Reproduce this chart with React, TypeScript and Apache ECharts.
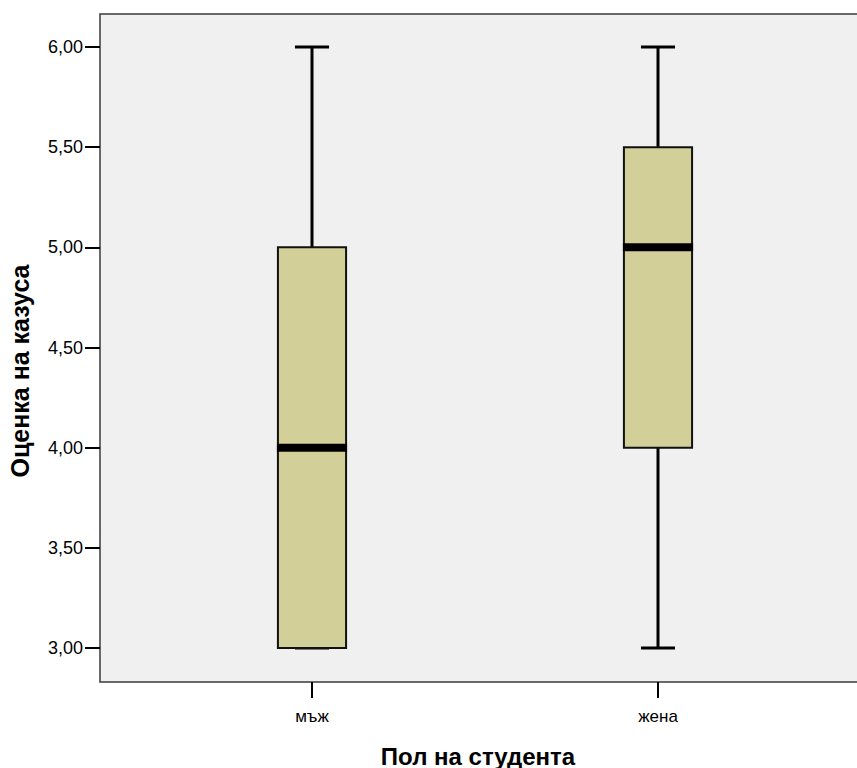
import React, { useEffect, useRef } from "react";
import * as echarts from "echarts";

const categories = ["мъж", "жена"];
// [min, Q1, median, Q3, max]
const boxValues = [
  [3.0, 3.0, 4.0, 5.0, 6.0],
  [3.0, 4.0, 5.0, 5.5, 6.0],
];
const yTicks = { min: 3, max: 6, interval: 0.5 };
const xTitle = "Пол на студента";
const yTitle = "Оценка на казуса";

export default function App() {
  const ref = useRef<HTMLDivElement>(null);
  useEffect(() => {
    if (!ref.current) return;
    const chart = echarts.init(ref.current, undefined, { renderer: "svg" });
    const font = "'Liberation Sans', Arial, sans-serif";
    const option: any = {
      animation: false,
      backgroundColor: "#ffffff",
      grid: [
        {
          left: 100,
          top: 14,
          width: 760,
          height: 668,
          show: true,
          outerBoundsMode: "none",
          containLabel: false,
          backgroundColor: "#f0f0f0",
          borderColor: "#3a3a3a",
          borderWidth: 1.5,
        },
        { left: 139, top: 47, width: 692, height: 601, outerBoundsMode: "none", containLabel: false },
      ],
      xAxis: [
        { type: "value", gridIndex: 0, show: false, min: 0, max: 1 },
        {
          type: "category",
          gridIndex: 1,
          data: categories,
          offset: 34,
          axisLine: { show: false },
          axisTick: {
            show: true,
            alignWithLabel: true,
            length: 16,
            lineStyle: { color: "#000", width: 2 },
          },
          axisLabel: { margin: 26, fontSize: 17, color: "#000", fontFamily: font },
          splitLine: { show: false },
        },
      ],
      yAxis: [
        { type: "value", gridIndex: 0, show: false, min: 0, max: 1 },
        {
          type: "value",
          gridIndex: 1,
          min: yTicks.min,
          max: yTicks.max,
          interval: yTicks.interval,
          offset: 39,
          axisLine: { show: false },
          axisTick: { show: true, length: 15, lineStyle: { color: "#000", width: 2 } },
          axisLabel: {
            margin: 17,
            fontSize: 18,
            color: "#000",
            fontFamily: font,
            formatter: (v: number) => v.toFixed(2).replace(".", ","),
          },
          splitLine: { show: false },
        },
      ],
      graphic: [
        {
          type: "text",
          x: 478,
          y: 756,
          style: {
            text: xTitle,
            textAlign: "center",
            textVerticalAlign: "middle",
            font: `bold 24px ${font}`,
            fill: "#000",
          },
        },
        {
          type: "text",
          x: 20,
          y: 371,
          rotation: Math.PI / 2,
          style: {
            text: yTitle,
            textAlign: "center",
            textVerticalAlign: "middle",
            font: `bold 25px ${font}`,
            fill: "#000",
          },
        },
      ],
      series: [
        {
          type: "custom",
          xAxisIndex: 1,
          yAxisIndex: 1,
          clip: false,
          data: boxValues.map((v, i) => [i, ...v]),
          renderItem: (params: any, api: any) => {
            const x = api.value(0);
            const pMin = api.coord([x, api.value(1)]);
            const pQ1 = api.coord([x, api.value(2)]);
            const pMed = api.coord([x, api.value(3)]);
            const pQ3 = api.coord([x, api.value(4)]);
            const pMax = api.coord([x, api.value(5)]);
            const band = api.size([1, 0])[0];
            const bw = band * 0.197;
            const cw = bw / 2;
            const cx = pMed[0];
            const lineStyle = { stroke: "#000", lineWidth: 3 };
            return {
              type: "group",
              children: [
                { type: "line", shape: { x1: cx, y1: pMax[1], x2: cx, y2: pQ3[1] }, style: lineStyle },
                { type: "line", shape: { x1: cx, y1: pQ1[1], x2: cx, y2: pMin[1] }, style: lineStyle },
                { type: "line", shape: { x1: cx - cw / 2, y1: pMax[1], x2: cx + cw / 2, y2: pMax[1] }, style: lineStyle },
                { type: "line", shape: { x1: cx - cw / 2, y1: pMin[1], x2: cx + cw / 2, y2: pMin[1] }, style: lineStyle },
                {
                  type: "rect",
                  shape: { x: cx - bw / 2, y: pQ3[1], width: bw, height: pQ1[1] - pQ3[1] },
                  style: { fill: "#d3cf99", stroke: "#111", lineWidth: 2 },
                },
                {
                  type: "rect",
                  shape: { x: cx - bw / 2 - 1, y: pMed[1] - 4, width: bw + 2, height: 8 },
                  style: { fill: "#000" },
                },
              ],
            };
          },
        },
      ],
    };
    chart.setOption(option);
    return () => chart.dispose();
  }, []);
  return (
    <div
      ref={ref}
      style={{ position: "fixed", left: 0, top: 0, width: 857, height: 768 }}
    />
  );
}
